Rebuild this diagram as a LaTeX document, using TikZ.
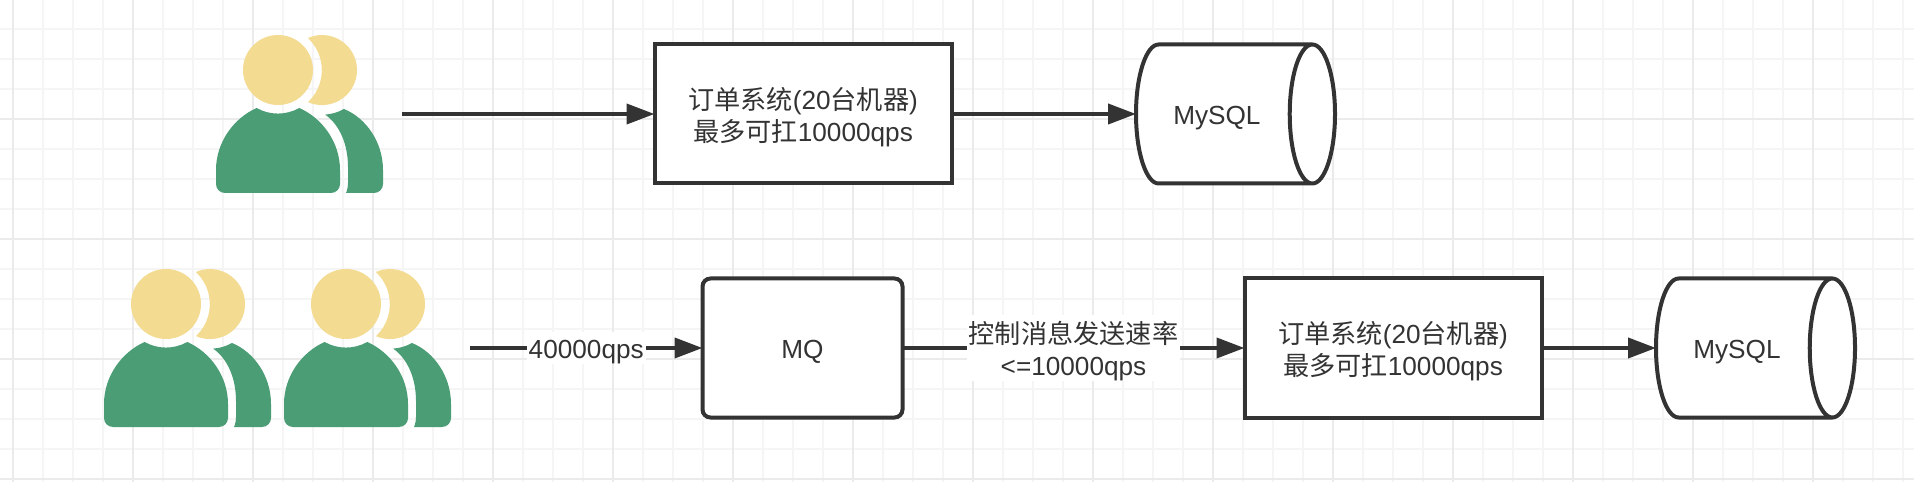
\documentclass[tikz,border=0pt]{standalone}
\usepackage{fontspec}
\setmainfont{Liberation Sans}
\newfontfamily\cjk{Noto Sans CJK SC}
\usepackage{xcolor}
\usetikzlibrary{shapes.geometric,arrows.meta}
\definecolor{inkgray}{HTML}{333333}
\definecolor{bodygreen}{HTML}{4A9D75}
\definecolor{headyellow}{HTML}{F4DB92}
\definecolor{gridminor}{HTML}{F5F5F5}
\definecolor{gridmajor}{HTML}{EBEBEB}
\tikzset{
  diagtext/.style={text=inkgray,font=\fontsize{7.45}{9.1}\selectfont,align=center,text height=7.5pt},
  twolines/.style={text height=17.2pt},
  sysbox/.style={diagtext,draw=inkgray,line width=.04cm,fill=white,outer sep=0pt,minimum width=2.97cm,minimum height=1.39cm},
  mqbox/.style={sysbox,rounded corners=.08cm,minimum width=2cm},
  dbshape/.style={diagtext,draw=inkgray,line width=.04cm,fill=white,outer sep=0pt,cylinder,shape aspect=.82,minimum width=1.39cm,minimum height=1.99cm,anchor=west},
  link/.style={draw=inkgray,line width=.04cm,-{Triangle[length=.28cm,width=.2cm]}},
  linklabel/.style={diagtext,fill=white,inner xsep=.02cm,inner ysep=0pt},
  users/.pic={
    \fill[headyellow] (0,0) circle (.35);
    \fill[headyellow] (.30,.32) arc[start angle=113.6,end angle=-113.6,radius=.35]
      arc[start angle=-46.8,end angle=46.8,radius=.4386] -- cycle;
    \fill[bodygreen] (-.53,-1.23) -- (.53,-1.23) arc[start angle=-90,end angle=0,radius=.09] -- (.62,-1)
      .. controls (.62,-.72) and (.44,-.48) .. (.213,-.38)
      arc[start angle=-60.7,end angle=-119.3,radius=.436]
      .. controls (-.44,-.48) and (-.62,-.72) .. (-.62,-1) -- (-.62,-1.14)
      arc[start angle=180,end angle=270,radius=.09] -- cycle;
    \fill[bodygreen] (.68,-1.23) -- (.96,-1.23) arc[start angle=-90,end angle=0,radius=.09] -- (1.05,-1)
      .. controls (1.05,-.72) and (.88,-.48) .. (.66,-.39)
      arc[start angle=-60.6,end angle=-86.1,radius=.445]
      .. controls (.62,-.55) and (.70,-.75) .. (.70,-.97) -- (.70,-1.13)
      .. controls (.70,-1.17) and (.69,-1.21) .. (.68,-1.23) -- cycle;
  }
}
\newcommand{\sysname}{{\cjk 订单系统}(20{\cjk 台机器})\\{\cjk 最多可扛}10000qps}
\begin{document}
\begin{tikzpicture}
    \useasboundingbox (0,0) rectangle (19.14,4.82);
    \fill[white] (0,0) rectangle (19.14,4.82);
    % background grid
    \foreach \i in {0,...,63} {
        \pgfmathsetmacro{\gx}{.13+.3*\i}
        \draw[gridminor,line width=.02cm] (\gx,0) -- (\gx,4.82);
    }
    \foreach \i in {0,...,15} {
        \pgfmathsetmacro{\gy}{.03+.3*\i}
        \draw[gridminor,line width=.02cm] (0,\gy) -- (19.14,\gy);
    }
    \foreach \i in {0,...,15} {
        \pgfmathsetmacro{\gx}{.13+1.2*\i}
        \draw[gridmajor,line width=.02cm] (\gx,0) -- (\gx,4.82);
    }
    \foreach \gy in {.03,1.23,2.43,3.63} {
        \draw[gridmajor,line width=.02cm] (0,\gy) -- (19.14,\gy);
    }
    % top row
    \pic at (2.78,4.12) {users};
    \coordinate (start1) at (4.02,3.68);
    \node[sysbox,twolines] (order1) at (8.03,3.68) {\sysname};
    \node[dbshape] (mysql1) at (11.36,3.68) {MySQL};
    \draw[link] (start1) -- (order1.west);
    \draw[link] (order1.east) -- (mysql1.west);
    % bottom row
    \pic at (1.66,1.78) {users};
    \pic at (3.46,1.78) {users};
    \coordinate (start2) at (4.70,1.34);
    \node[mqbox] (mq) at (8.025,1.34) {MQ};
    \node[sysbox,twolines] (order2) at (13.93,1.34) {\sysname};
    \node[dbshape] (mysql2) at (16.56,1.34) {MySQL};
    \draw[link] (start2) -- node[linklabel] {40000qps} (mq.west);
    \draw[link] (mq.east) -- node[linklabel,twolines] {{\cjk 控制消息发送速率}\\<=10000qps} (order2.west);
    \draw[link] (order2.east) -- (mysql2.west);
\end{tikzpicture}
\end{document}
